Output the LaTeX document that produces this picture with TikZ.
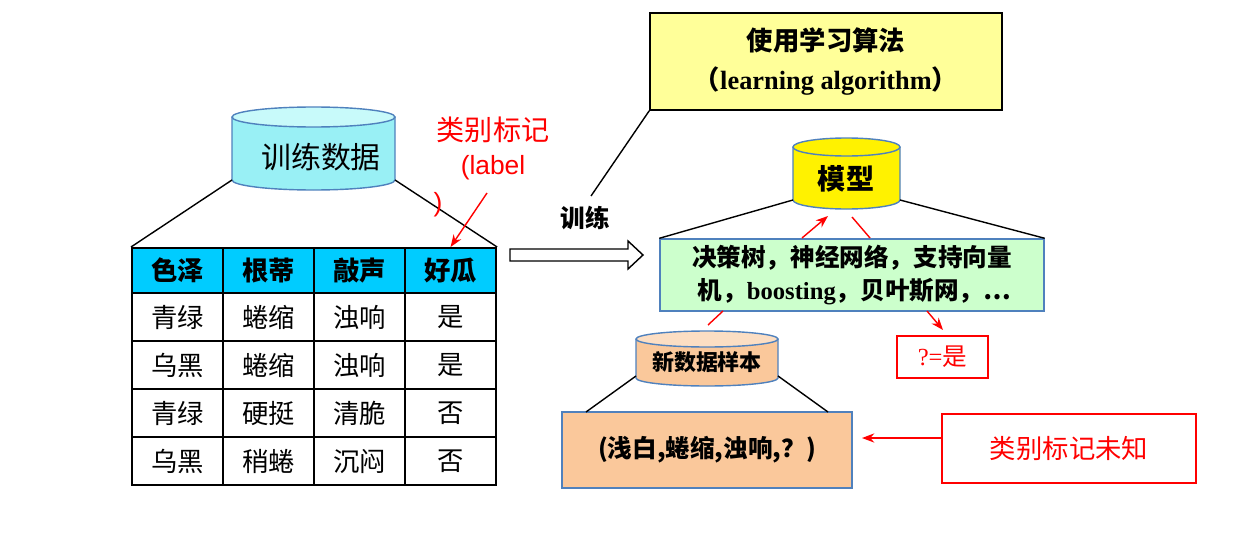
\documentclass[tikz,border=0pt]{standalone}
\usepackage{fontspec}
\setmainfont{Liberation Sans}
\newfontfamily\cjk{Noto Sans CJK SC}
\newfontfamily\ser{Liberation Serif}
\usetikzlibrary{arrows.meta}
\definecolor{cyanh}{RGB}{0,204,255}
\definecolor{cylc}{RGB}{153,240,245}
\definecolor{cylt}{RGB}{200,250,250}
\definecolor{yelb}{RGB}{255,255,153}
\definecolor{grn}{RGB}{204,255,204}
\definecolor{pch}{RGB}{250,200,155}
\definecolor{pcht}{RGB}{252,222,195}
\definecolor{bord}{RGB}{79,129,189}
\newcommand{\mycyl}[7]{%
 \fill[#6] (#1,#3) -- (#1,#4) arc[start angle=180,end angle=0,x radius={(#2-#1)/2},y radius=#5] -- (#2,#3) -- cycle;
 \draw[bord,thick] (#1,#3) -- (#1,#4) arc[start angle=180,end angle=0,x radius={(#2-#1)/2},y radius=#5] -- (#2,#3);
 \draw[bord,thick,fill=#7] ({(#1+#2)/2},#3) ellipse[x radius={(#2-#1)/2},y radius=#5];}
\begin{document}
\begin{tikzpicture}[x=0.02cm,y=-0.02cm,
 cell/.style={draw,line width=1.2pt,minimum width=91*0.02cm,minimum height=48*0.02cm,anchor=north west,inner sep=0pt,font=\cjk\fontsize{15}{17}\selectfont},
 hcell/.style={cell,fill=cyanh,minimum height=45*0.02cm,font=\cjk\bfseries\fontsize{15}{17}\selectfont},
 ln/.style={thick},
 rarr/.style={red,thick,-{Stealth[length=7pt]}}]
\useasboundingbox (0,0) rectangle (1257,544);
% training data cylinder
\mycyl{232}{395}{117}{180}{10}{cylc}{cylt}
\node[font=\cjk\fontsize{17}{19}\selectfont] (td) at (321,157) {训练数据};
\coordinate (tdl) at (232,180); \coordinate (tdr) at (395,180);
% table
\foreach \t [count=\i from 0] in {色泽,根蒂,敲声,好瓜}
  \node[hcell] (h\i) at ({131+91*\i},247) {\t};
\foreach \r [count=\j from 0] in {{青绿,蜷缩,浊响,是},{乌黑,蜷缩,浊响,是},{青绿,硬挺,清脆,否},{乌黑,稍蜷,沉闷,否}}{
  \foreach \t [count=\i from 0] in \r
    \node[cell] (c\j\i) at ({131+91*\i},{292+48*\j}) {\t};}
\draw[ln] (tdl) -- (h0.north west);
\draw[ln] (tdr) -- (h3.north east);
% label
\node[red,font=\cjk\fontsize{16}{18}\selectfont] (lab1) at (493,130) {类别标记};
\node[red,font=\fontsize{15}{17}\selectfont] (lab2) at (493,168) {(label};
\node[red,font=\fontsize{15}{17}\selectfont] (lab3) at (438,205) {)};
\coordinate (la) at (487,193);
\draw[rarr] (la) -- (h3.north);
% hollow arrow
\node[font=\cjk\bfseries\fontsize{14}{16}\selectfont] (xl) at (585,218) {训练};
\draw[thick,fill=white] (510,249) -- (628,249) -- (628,241) -- (643,255) -- (628,269) -- (628,261) -- (510,261) -- cycle;
% algorithm box
\node[draw,thick,fill=yelb,minimum width=352*0.02cm,minimum height=97*0.02cm,align=center,font=\bfseries\fontsize{15}{22}\selectfont] (alg) at (826,61.5) {{\cjk 使用学习算法}\\{\cjk （}{\ser learning algorithm}{\cjk ）}};
\coordinate (xe) at (591,196);
\draw[ln] (xe) -- (alg.south west);
% model cylinder
\mycyl{793}{900}{147}{200}{9}{yellow}{yellow}
\node[font=\cjk\bfseries\fontsize{16}{18}\selectfont] (mod) at (846,179) {模型};
% green box
\node[draw=bord,thick,fill=grn,minimum width=384*0.02cm,minimum height=72*0.02cm,align=left,font=\bfseries\fontsize{14}{19}\selectfont] (alg2) at (852,275) {{\cjk 决策树，神经网络，支持向量}\\{\cjk \ 机，}{\ser boosting}{\cjk ，贝叶斯网，…}};
\coordinate (ml) at (793,200); \coordinate (mr) at (900,200);
\draw[ln] (ml) -- (alg2.north west);
\draw[ln] (mr) -- (alg2.north east);
\coordinate (a1) at (802,238); \coordinate (a2) at (828,216);
\draw[rarr] (a1) -- (a2);
\coordinate (b1) at (852,217); \coordinate (b2) at (870,238);
\draw[red,thick] (b1) -- (b2);
\coordinate (d1) at (708,325); \coordinate (d2) at (723,311);
\draw[red,thick] (d1) -- (d2);
\coordinate (e1) at (927,311); \coordinate (e2) at (943,330);
\draw[rarr] (e1) -- (e2);
% result box
\node[draw=red,thick,minimum width=91*0.02cm,minimum height=42*0.02cm,red,font=\cjk\fontsize{14}{16}\selectfont] (res) at (942.5,357) {{\ser ?=}是};
% new sample cylinder
\mycyl{636}{778}{339}{378}{8}{pch}{pcht}
\node[font=\cjk\bfseries\fontsize{12.5}{14}\selectfont] (ns) at (707,362) {新数据样本};
\node[draw=bord,thick,fill=pch,minimum width=290*0.02cm,minimum height=76*0.02cm,font=\cjk\bfseries\fontsize{14}{16}\selectfont] (smp) at (707,450) {(浅白,蜷缩,浊响,？)};
\coordinate (nl) at (636,376); \coordinate (nr) at (778,376);
\coordinate (pl) at (586,412); \coordinate (pr) at (828,412);
\draw[ln] (nl) -- (pl); \draw[ln] (nr) -- (pr);
% unknown box
\node[draw=red,thick,minimum width=254*0.02cm,minimum height=69*0.02cm,red,font=\cjk\fontsize{15}{17}\selectfont] (unk) at (1069,448.5) {类别标记未知};
\coordinate (ua) at (942,438); \coordinate (ub) at (862,438);
\draw[rarr] (ua) -- (ub);
\end{tikzpicture}
\end{document}
